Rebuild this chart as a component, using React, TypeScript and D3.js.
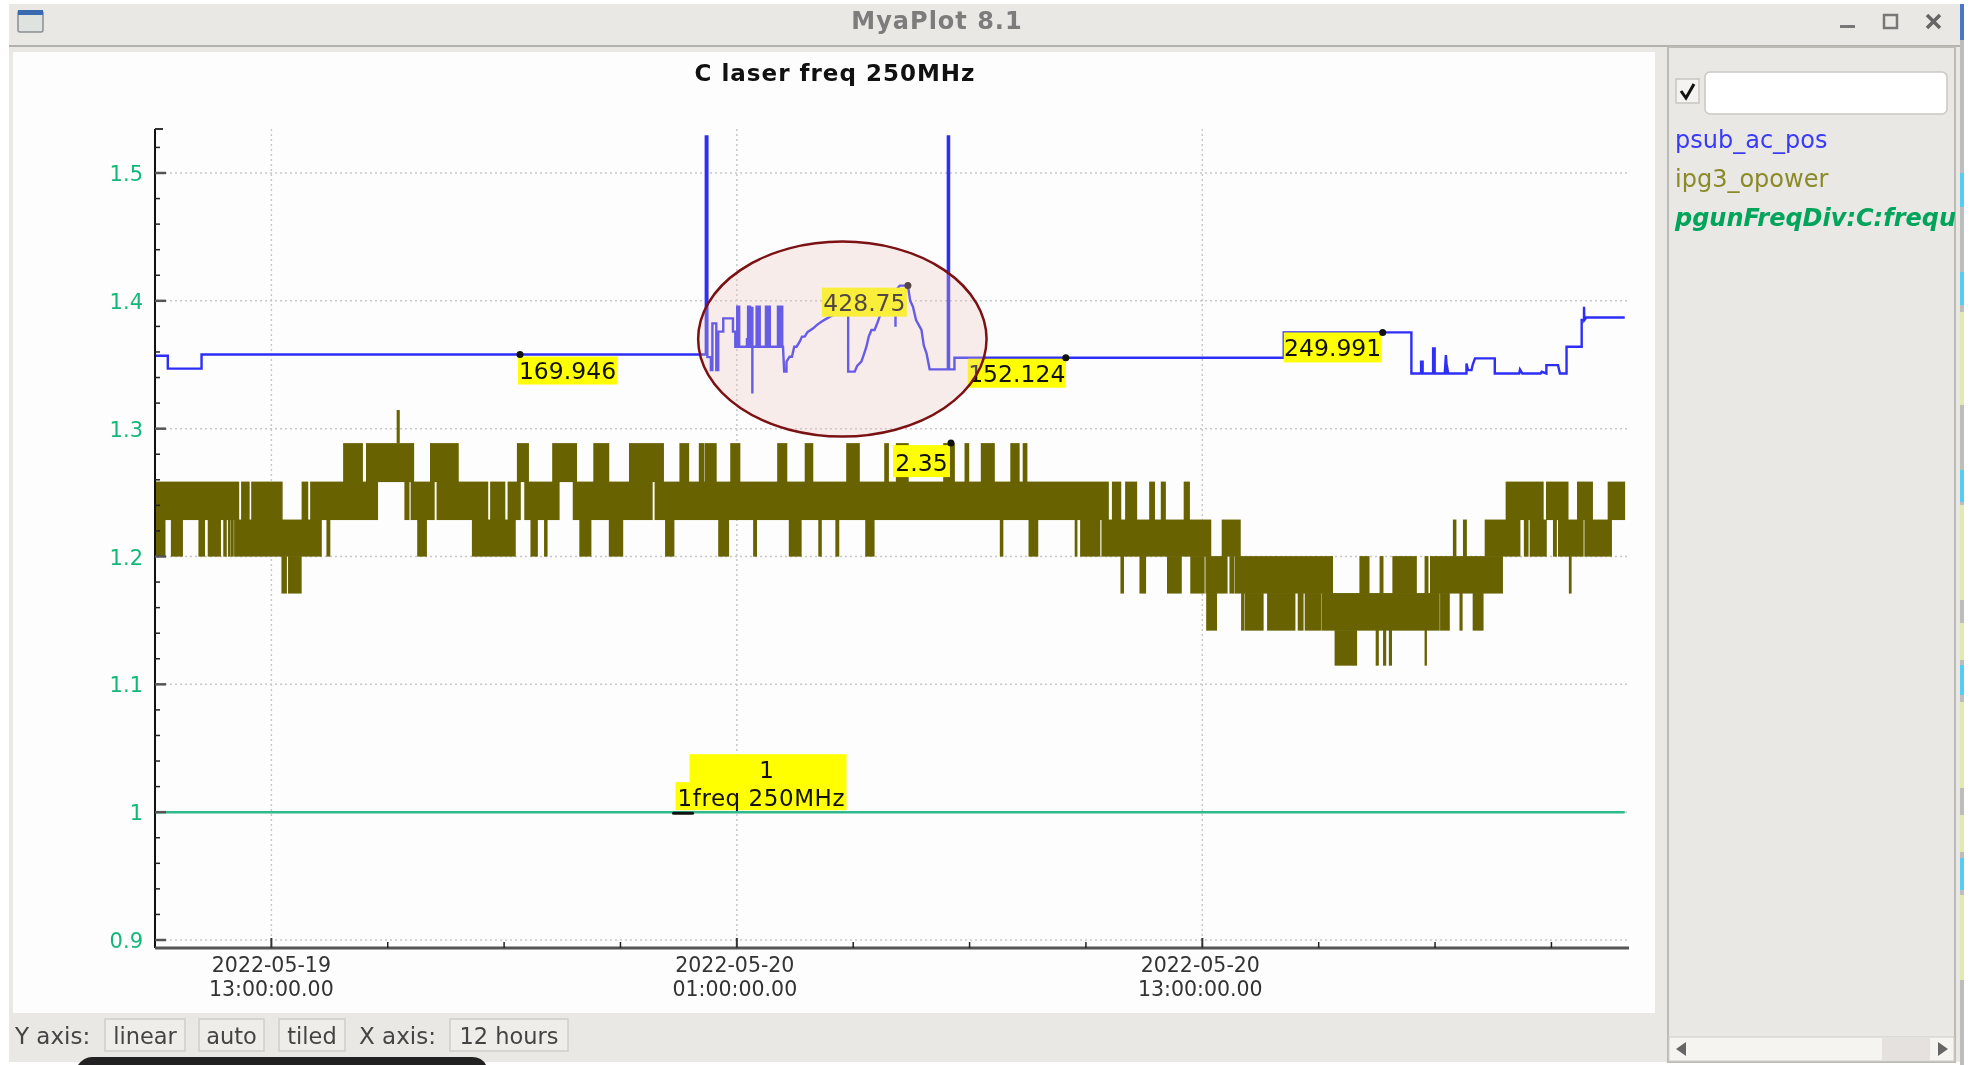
import React from "react";
import * as d3 from "d3";

// ---------- data: time in hours since 2022-05-19 00:00, values in plot units ----------
const title = "C laser freq 250MHz";
const yTickValues = [0.9, 1.0, 1.1, 1.2, 1.3, 1.4, 1.5];
const yTickLabels = ["0.9", "1", "1.1", "1.2", "1.3", "1.4", "1.5"];
const yMinorTicks = [0.92, 0.94, 0.96, 0.98, 1.02, 1.04, 1.06, 1.08, 1.12, 1.14, 1.16, 1.18, 1.22, 1.24, 1.26, 1.28, 1.32, 1.34, 1.36, 1.38, 1.42, 1.44, 1.46, 1.48, 1.52];
const xMajorHours = [13, 25, 37];
const xMinorHours = [16, 19, 22, 28, 31, 34, 40, 43, 46];
const xLabels = [["2022-05-19", "13:00:00.00"], ["2022-05-20", "01:00:00.00"], ["2022-05-20", "13:00:00.00"]];
const legendNames = ["psub_ac_pos", "ipg3_opower", "pgunFreqDiv:C:frequ"];

const blueEarly = [[10, 1.357], [10.33, 1.357], [10.33, 1.347], [11.2, 1.347], [11.2, 1.358], [24.2, 1.358], [24.2, 1.5285], [24.24, 1.5285], [24.24, 1.356], [24.33, 1.356], [24.33, 1.3459], [24.37, 1.3459], [24.37, 1.3824], [24.47, 1.3824], [24.47, 1.3459], [24.52, 1.3459], [24.52, 1.3759], [24.65, 1.3759], [24.65, 1.3863], [24.9, 1.3863], [24.9, 1.3759], [24.96, 1.3759], [24.96, 1.3641]];
const blueBursts = [[25.01, 1.3641], [25.01, 1.3954], [25.03, 1.3954], [25.03, 1.3641], [25.045, 1.3641], [25.045, 1.3954], [25.06, 1.3954], [25.06, 1.3641], [25.26, 1.3641], [25.26, 1.37], [25.29, 1.37], [25.29, 1.3954], [25.3, 1.3954], [25.3, 1.3641], [25.33, 1.3641], [25.33, 1.3954], [25.34, 1.3954], [25.34, 1.3641], [25.4, 1.3641], [25.4, 1.3954], [25.4, 1.3276], [25.4, 1.3641], [25.51, 1.3641], [25.51, 1.3954], [25.53, 1.3954], [25.53, 1.3641], [25.57, 1.3641], [25.57, 1.3954], [25.59, 1.3954], [25.59, 1.3641], [25.75, 1.3641], [25.75, 1.3954], [25.83, 1.3954], [25.83, 1.3641], [25.75, 1.3641], [25.75, 1.3954], [25.77, 1.3954], [25.77, 1.3641], [25.83, 1.3641], [25.83, 1.3954], [25.85, 1.3954], [25.85, 1.3641], [26.06, 1.3641], [26.06, 1.3954], [26.08, 1.3954], [26.08, 1.3641], [26.11, 1.3641], [26.11, 1.3954], [26.17, 1.3954], [26.17, 1.3641]];
const blueRampA = [[26.19, 1.3641], [26.22, 1.3446], [26.28, 1.3446], [26.28, 1.3524], [26.36, 1.3563], [26.42, 1.3563], [26.48, 1.3641], [26.54, 1.3641], [26.62, 1.368], [26.68, 1.372], [26.75, 1.372], [26.82, 1.3755], [26.97, 1.3785], [27.06, 1.381], [27.18, 1.3837], [27.28, 1.3855], [27.4, 1.3876], [27.87, 1.395], [27.87, 1.3446], [28.04, 1.3446], [28.1, 1.349], [28.21, 1.3524], [28.28, 1.3585], [28.34, 1.3641], [28.4, 1.372], [28.47, 1.3772], [28.55, 1.3772], [28.62, 1.3825], [28.68, 1.3876], [29.03, 1.4033], [29.09, 1.4033], [29.09, 1.3798], [29.09, 1.408], [29.2, 1.4119], [29.41, 1.4119]];
const blueRampB = [[29.47, 1.4], [29.54, 1.3954], [29.62, 1.385], [29.76, 1.3772], [29.82, 1.365], [29.89, 1.3589], [29.97, 1.3464], [30.44, 1.3464], [30.44, 1.5285], [30.47, 1.5285], [30.47, 1.3464], [30.61, 1.3464], [30.61, 1.3555]];
const blueLate = [[39.1, 1.3555], [39.1, 1.3753], [42.39, 1.3753], [42.39, 1.3432], [42.64, 1.3432], [42.64, 1.3523], [42.68, 1.3523], [42.68, 1.3432], [42.95, 1.3432], [42.95, 1.3628], [42.99, 1.3628], [42.99, 1.3432], [43.25, 1.3432], [43.28, 1.3576], [43.31, 1.3432], [43.25, 1.3432], [43.3, 1.35], [43.34, 1.3432], [43.81, 1.3432], [43.81, 1.351], [43.85, 1.3458], [43.94, 1.3458], [43.97, 1.35], [44.03, 1.355], [44.54, 1.355], [44.54, 1.3432], [45.17, 1.3432], [45.19, 1.3463], [45.25, 1.3432], [45.72, 1.3432], [45.75, 1.3445], [45.87, 1.3432], [45.87, 1.3497], [46.17, 1.3497], [46.22, 1.3432], [46.39, 1.3432], [46.39, 1.3641], [46.78, 1.3641], [46.78, 1.385], [46.84, 1.385], [46.84, 1.3954], [46.85, 1.385], [46.9, 1.387], [47.89, 1.387]];
const blueSeries = [...blueEarly, ...blueBursts, ...blueRampA, ...blueRampB, ...blueLate];

const greenSeries = [[10, 1.0], [47.89, 1.0]];

// olive trace: quantised levels, and the time spans in which the trace fills each pair of levels
const oliveLevels = [1.2887, 1.2586, 1.2289, 1.2003, 1.1714, 1.1424, 1.115];
const oliveSpike = [[16.23, 16.31]];
const oliveSpikeTop = 1.3146;
const bandA = [[14.86, 15.35], [15.45, 16.67], [17.1, 17.82], [19.34, 19.63], [20.25, 20.87], [21.31, 21.7], [22.23, 23.11], [23.53, 23.76], [24.03, 24.15], [24.18, 24.47], [24.84, 25.08], [26.05, 26.29], [26.76, 26.96], [27.83, 28.16], [28.81, 28.91], [29.11, 29.42], [30.33, 30.61], [30.88, 30.98], [31.3, 31.64], [32.06, 32.28], [32.38, 32.48]];
const bandB = [[10, 12.16], [12.23, 12.43], [12.49, 13.28], [13.79, 13.94], [14.01, 15.74], [16.44, 16.55], [16.6, 17.2], [17.27, 18.58], [18.65, 19.02], [19.1, 19.42], [19.53, 20.42], [20.78, 22.82], [22.89, 34.58], [34.68, 34.9], [35.02, 35.31], [35.64, 35.77], [35.94, 36.05], [36.53, 36.67], [44.83, 45.79], [45.87, 46.43], [46.67, 47.06], [47.46, 47.89]];
const bandC = [[10, 10.26], [10.42, 10.71], [11.13, 11.28], [11.37, 11.69], [11.77, 11.84], [11.89, 11.94], [11.97, 12.02], [12.05, 14.29], [14.43, 14.51], [16.77, 17], [18.18, 19.29], [19.69, 19.86], [20.04, 20.11], [20.95, 21.24], [21.71, 22.06], [23.16, 23.38], [24.53, 24.79], [25.43, 25.51], [26.35, 26.66], [27.11, 27.18], [27.55, 27.63], [28.32, 28.54], [31.79, 31.86], [32.53, 32.76], [33.72, 33.77], [33.86, 34.36], [34.41, 37.22], [37.51, 37.98], [43.47, 43.54], [43.73, 43.81], [44.29, 45.19], [45.3, 45.4], [45.45, 45.87], [46.05, 46.13], [46.18, 46.82], [46.86, 47.55]];
const bandD = [[13.27, 13.39], [13.44, 13.77], [34.9, 34.97], [35.39, 35.54], [36.1, 36.46], [36.7, 37.05], [37.09, 37.64], [37.71, 37.81], [37.84, 40.36], [41.06, 41.3], [41.58, 41.66], [41.91, 42.52], [42.74, 42.82], [42.88, 44.74], [46.46, 46.51]];
const bandE = [[37.11, 37.37], [38.01, 38.07], [38.1, 38.57], [38.68, 39.39], [39.47, 39.6], [39.65, 40.05], [40.08, 40.19], [40.2, 43.11], [43.14, 43.37], [43.64, 43.7], [43.98, 44.24]];
const bandF = [[40.42, 40.98], [41.48, 41.54], [41.67, 41.73], [41.82, 41.88], [42.74, 42.78]];
const oliveBands = [bandA, bandB, bandC, bandD, bandE, bandF];

const noteTexts = ["169.946", "152.124", "249.991", "428.75", "2.35"];
const noteHours = [19.41, 33.48, 41.65, 29.41, 30.52];
const noteValues = [1.358, 1.3555, 1.3753, 1.4119, 1.2887];
const freqNoteHour = 23.6;
const freqNoteValue = 1.0;
const freqNoteLines = ["1", "1freq 250MHz"];
const highlightCentre = [27.72, 1.3701];

// ---------- scales ----------
const base = Date.UTC(2022, 4, 19);
const t = (h: number) => new Date(base + h * 3600e3);
const x = d3.scaleUtc().domain([t(10), t(48)]).range([155, 1629]);
const y = d3.scaleLinear().domain([0.9, 1.5]).range([940, 173]);
const X = (h: number) => x(t(h));
const line = d3.line<number[]>().x((d) => X(d[0])).y((d) => y(d[1]));

const sans = "'DejaVu Sans', sans-serif";
const BLUE = "#2e2ef6";
const OLIVE = "#686200";
const GREEN = "#2fb98c";
const TICKGREEN = "#12b878";
const BG = "#e9e8e5";

// label box offsets from the anchor point, per note
const noteBoxes = [
  { dx: -2, dy: 2, w: 99, h: 28 },
  { dx: -98, dy: 1, w: 98, h: 29 },
  { dx: -99, dy: 0, w: 98, h: 30 },
  { dx: -86, dy: 2, w: 85, h: 29 },
  { dx: -58, dy: 2, w: 57, h: 32 },
];

function Button({ x: bx, w, label }: { x: number; w: number; label: string }) {
  return (
    <g>
      <rect x={bx} y={1019} width={w} height={32} fill="#eeede9" stroke="#cfcdc8" strokeWidth={1.5} />
      <text x={bx + w / 2} y={1044} textAnchor="middle" fontSize={22.5} fill="#444">{label}</text>
    </g>
  );
}

export default function App() {
  const cx = X(highlightCentre[0]);
  const cy = y(highlightCentre[1]);
  const fx = X(freqNoteHour);
  const fy = y(freqNoteValue);
  const stripCyan = [[173, 207], [272, 305], [470, 502], [665, 695], [858, 890]];
  const stripPale = [[312, 405], [505, 600], [623, 660], [702, 788], [815, 852], [895, 980]];
  return (
    <svg width={1978} height={1065} style={{ position: "fixed", left: 0, top: 0, background: "#fff", filter: "blur(0.7px)" }} fontFamily={sans}>
      {/* window chrome */}
      <rect x={9} y={4} width={1951} height={1058} fill={BG} />
      <rect x={9} y={45} width={1951} height={2} fill="#b3b1ab" />
      <rect x={13} y={52} width={1642} height={961} fill="#fdfdfd" />
      <rect x={18} y={11} width={25} height={21} rx={2} fill="#dfe3e0" stroke="#8a8f94" strokeWidth={1.5} />
      <rect x={18} y={10} width={25} height={5} fill="#3a6ab0" />
      <text x={937} y={29} textAnchor="middle" fontSize={24} fontWeight="bold" fill="#7c7c7c" letterSpacing={1}>MyaPlot 8.1</text>
      <rect x={1840} y={25} width={15} height={3} fill="#777" />
      <rect x={1884} y={15} width={13} height={13} fill="none" stroke="#777" strokeWidth={2.5} />
      <path d="M1927 15 L1940 28 M1940 15 L1927 28" stroke="#666" strokeWidth={3.5} />

      {/* right panel */}
      <rect x={1668} y={47} width={287} height={1015} fill={BG} stroke="#bdbbb5" strokeWidth={2} />
      <rect x={1676} y={79} width={23} height={24} fill="#f4f3f1" stroke="#c8c6c1" strokeWidth={1.5} />
      <path d="M1681 91 L1686 98 L1694 84" fill="none" stroke="#111" strokeWidth={3} />
      <rect x={1705} y={72} width={242} height={42} rx={5} fill="#fff" stroke="#c9c7c2" strokeWidth={1.5} />
      <clipPath id="panel"><rect x={1668} y={47} width={287} height={1015} /></clipPath>
      <g clipPath="url(#panel)" fontSize={24}>
        <text x={1675} y={148} fill="#3a3af8">{legendNames[0]}</text>
        <text x={1675} y={187} fill="#8a8a28">{legendNames[1]}</text>
        <text x={1675} y={226} fill="#00a45a" fontWeight="bold" fontStyle="italic">{legendNames[2]}</text>
      </g>
      <rect x={1669} y={1037} width={285} height={24} fill="#f5f4f1" stroke="#cfcdc8" />
      <rect x={1882} y={1038} width={48} height={22} fill="#e4e1de" />
      <path d="M1676 1049 L1686 1042 L1686 1056 Z" fill="#666" />
      <path d="M1948 1049 L1938 1042 L1938 1056 Z" fill="#666" />

      {/* outer strip on the right edge */}
      <rect x={1960} y={4} width={4} height={1061} fill="#bdbdbd" />
      <rect x={1960} y={4} width={4} height={36} fill="#4a78c8" />
      {stripCyan.map(([a, b], i) => <rect key={i} x={1960} y={a} width={4} height={b - a} fill="#55cdf0" />)}
      {stripPale.map(([a, b], i) => <rect key={i} x={1960} y={a} width={4} height={b - a} fill="#e3e8b4" />)}

      {/* title */}
      <text x={835} y={81} textAnchor="middle" fontSize={23} fontWeight="bold" fill="#111" letterSpacing={1}>{title}</text>

      {/* grid */}
      {yTickValues.map((v) => (
        <line key={v} x1={165} x2={1628} y1={y(v)} y2={y(v)} stroke="#c8c8c8" strokeWidth={1.5} strokeDasharray="2 3" />
      ))}
      {xMajorHours.map((h) => (
        <line key={h} x1={X(h)} x2={X(h)} y1={129} y2={948} stroke="#c8c8c8" strokeWidth={1.5} strokeDasharray="2 3" />
      ))}

      {/* olive series */}
      <g fill={OLIVE}>
        {oliveBands.map((band, i) =>
          band.map(([a, b], j) => (
            <rect key={`${i}-${j}`} x={X(a) - 0.4} width={Math.max(X(b) - X(a), 1) + 0.8} y={y(oliveLevels[i])} height={y(oliveLevels[i + 1]) - y(oliveLevels[i]) + 0.5} />
          ))
        )}
        {oliveSpike.map(([a, b], j) => (
          <rect key={j} x={X(a)} width={X(b) - X(a)} y={y(oliveSpikeTop)} height={y(oliveLevels[0]) - y(oliveSpikeTop)} />
        ))}
      </g>

      {/* blue and green series */}
      <path d={line(blueSeries) as string} fill="none" stroke={BLUE} strokeWidth={2.4} />
      <path d={line(greenSeries) as string} fill="none" stroke={GREEN} strokeWidth={2.5} />

      {/* axes */}
      <line x1={155} x2={155} y1={129} y2={948} stroke="#111" strokeWidth={2} />
      <line x1={155} x2={1629} y1={948} y2={948} stroke="#555" strokeWidth={3} />
      <line x1={155} x2={163} y1={129} y2={129} stroke="#333" strokeWidth={2} />
      {yMinorTicks.map((v) => <line key={v} x1={155} x2={160} y1={y(v)} y2={y(v)} stroke="#222" strokeWidth={1.5} />)}
      {yTickValues.map((v, i) => (
        <g key={v}>
          <line x1={155} x2={166} y1={y(v)} y2={y(v)} stroke="#555" strokeWidth={2.5} />
          <text x={143} y={y(v) + 8} textAnchor="end" fontSize={21} fill={TICKGREEN}>{yTickLabels[i]}</text>
        </g>
      ))}
      {xMinorHours.map((h) => <line key={h} x1={X(h)} x2={X(h)} y1={942} y2={948} stroke="#222" strokeWidth={1.5} />)}
      {xMajorHours.map((h, i) => (
        <g key={h}>
          <line x1={X(h)} x2={X(h)} y1={938} y2={948} stroke="#333" strokeWidth={2} />
          <text x={X(h) - (i === 0 ? 0 : 2)} y={972} textAnchor="middle" fontSize={20.5} fill="#333">{xLabels[i][0]}</text>
          <text x={X(h) - (i === 0 ? 0 : 2)} y={996} textAnchor="middle" fontSize={20.5} fill="#333">{xLabels[i][1]}</text>
        </g>
      ))}

      {/* value notes */}
      {noteTexts.map((s, i) => {
        const px = X(noteHours[i]);
        const py = y(noteValues[i]);
        const b = noteBoxes[i];
        return (
          <g key={s}>
            <rect x={px + b.dx} y={py + b.dy} width={b.w} height={b.h} fill="#ffff00" />
            <text x={px + b.dx + b.w / 2} y={py + b.dy + b.h - 6} textAnchor="middle" fontSize={23.5} fill="#111">{s}</text>
            <circle cx={px} cy={py} r={3.5} fill="#111" />
          </g>
        );
      })}
      <rect x={fx + 7} y={fy - 58} width={157} height={56} fill="#ffff00" />
      <rect x={fx - 7} y={fy - 30} width={14} height={28} fill="#ffff00" />
      <text x={fx + 84} y={fy - 34} textAnchor="middle" fontSize={23} fill="#111">{freqNoteLines[0]}</text>
      <text x={fx - 5} y={fy - 6} fontSize={23} fill="#111" textLength={167}>{freqNoteLines[1]}</text>
      <path d={`M${fx - 9} ${fy + 1} L${fx + 10} ${fy + 1}`} stroke="#111" strokeWidth={3} strokeLinecap="round" />

      {/* highlight ellipse */}
      <ellipse cx={cx} cy={cy} rx={144.2} ry={97.5} fill="rgb(235,198,192)" fillOpacity={0.3} stroke="#7b1113" strokeWidth={2.5} />

      {/* bottom bar */}
      <text x={15} y={1044} fontSize={23} fill="#444">Y axis:</text>
      <Button x={105} w={80} label="linear" />
      <Button x={199} w={65} label="auto" />
      <Button x={279} w={66} label="tiled" />
      <text x={359} y={1044} fontSize={23} fill="#444">X axis:</text>
      <Button x={450} w={118} label="12 hours" />
      <path d="M78 1065 Q84 1057 92 1057 L472 1057 Q482 1057 486 1065 Z" fill="#222" />
    </svg>
  );
}
